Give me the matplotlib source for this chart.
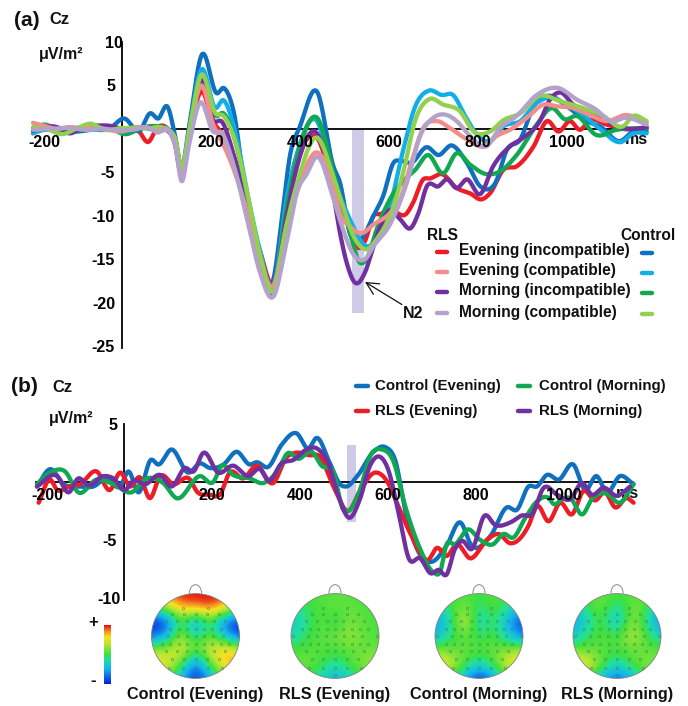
import numpy as np
import matplotlib
matplotlib.use('Agg')
from matplotlib import pyplot as plt
from matplotlib import patches, transforms
from matplotlib.colors import LinearSegmentedColormap

plt.rcParams['font.family'] = ['Liberation Sans', 'DejaVu Sans']
plt.rcParams['font.weight'] = 'bold'
plt.rcParams['axes.unicode_minus'] = False

W, H = 688, 706

# (a) each curve is (ms, value)
rls_eve_inc = [(-200,-.5),(-170,.2),(-140,-.2),(-100,.1),(-60,0),(-20,.2),(10,-.2),(35,-.1),(59,-1.5),(80,.2),(105,-.1),(120,-1.5),(134,-5),(150,-1),(178,4.3),(205,.8),(225,-.5),(250,-3),(284,-9.5),(310,-14),(340,-17.7),(370,-9),(385,-4.5),(400,-2.5),(438,-1),(475,-6.5),(510,-11),(532,-13.7),(546,-12.9),(565,-10),(580,-9.8),(602,-9.3),(640,-9.7),(654,-8.5),(677,-5.8),(692,-5.7),(719,-5.2),(752,-6.8),(782,-7.4),(808,-8.1),(827,-7.4),(857,-4.7),(887,-4.3),(925,-2),(955,.9),(981,-.3),(1007,.9),(1029,-.1),(1051,1),(1089,.5),(1126,0),(1179,0)]
rls_eve_com = [(-200,.7),(-170,.3),(-150,0),(-120,.2),(-90,.1),(-60,.2),(-30,-.1),(0,-.3),(30,.2),(60,.1),(90,-.2),(105,-.2),(120,-2),(134,-5.5),(150,-1),(178,5),(205,.5),(225,-1.5),(250,-4.5),(284,-10),(310,-15),(340,-18),(370,-11),(395,-7),(438,-2.7),(475,-6.5),(490,-9.7),(512,-11.2),(538,-12),(565,-11),(602,-9.7),(625,-8.1),(650,-3.9),(677,.1),(707,.9),(737,.1),(775,-1.2),(812,-2),(842,-.8),(872,-.1),(910,1.3),(947,2.8),(977,2.6),(1014,2.4),(1051,1.6),(1089,.9),(1134,1.6),(1179,.7)]
rls_mor_inc = [(-200,-.2),(-170,.3),(-140,.1),(-120,-.5),(-90,.1),(-50,.4),(-20,.3),(10,-.2),(40,.1),(70,.2),(100,0),(118,-1.5),(134,-5.3),(150,-1),(178,5.5),(205,1),(225,.8),(250,-2.8),(284,-10.5),(310,-15.5),(340,-18.7),(370,-10),(395,-4),(438,-.5),(475,-7.5),(490,-12),(505,-15.4),(524,-17.7),(546,-16.5),(565,-13.5),(580,-11.3),(602,-9.3),(625,-10.4),(649,-11.4),(666,-9.7),(685,-6.6),(711,-6.6),(730,-5.8),(752,-6.8),(775,-5.8),(805,-7.5),(834,-4.3),(872,-2),(902,-1),(939,.9),(962,3.4),(984,4.2),(1014,2.8),(1044,1.8),(1074,1.5),(1104,.5),(1141,0),(1179,.2)]
rls_mor_com = [(-200,-.1),(-160,0),(-120,.1),(-80,-.1),(-40,0),(0,-.2),(25,-.1),(55,.2),(80,-.4),(105,-.2),(120,-2),(134,-6),(150,-2),(175,3),(205,-.3),(225,-.5),(250,-4),(284,-11),(310,-16.5),(340,-19.3),(370,-13),(395,-7),(415,-5.2),(438,-3.2),(475,-8),(490,-10.5),(520,-14.4),(546,-15),(565,-13.5),(602,-11),(640,-6.2),(670,-.8),(700,1.3),(730,1.6),(752,.9),(782,-.8),(819,-2),(849,.1),(887,1.5),(932,3.9),(981,4.7),(1021,3.4),(1066,2.2),(1096,.9),(1134,1.3),(1179,.5)]
ctl_eve_inc = [(-200,-.2),(-165,-.1),(-130,-.2),(-100,-.3),(-70,-.1),(-30,0),(5,1.2),(40,-.2),(63,1.8),(81,1.2),(103,2.5),(120,-1),(134,-4.5),(150,0),(179,8.5),(213,4.1),(229,4.7),(250,2.2),(284,-10),(310,-15),(340,-17.3),(360,-10),(377,-3.2),(400,.3),(438,4.3),(475,-4.3),(490,-6.2),(512,-12),(535,-12.7),(565,-10),(587,-7.7),(610,-3.9),(628,-3.7),(650,-3.9),(685,-2.1),(711,-3),(741,-1.9),(775,-3.9),(805,-6.6),(839,-6.2),(865,-2.4),(895,-1.2),(925,2.6),(955,3.8),(1000,2.6),(1044,.9),(1074,.3),(1119,-1.4),(1149,-.3),(1179,-.3)]
ctl_eve_com = [(-200,-.5),(-170,0),(-140,.1),(-100,.1),(-60,-.1),(-20,.1),(15,-.2),(45,.1),(75,-.1),(100,-.1),(118,-1.5),(134,-5),(150,-.5),(178,6.8),(210,2.4),(228,3.3),(255,-.5),(284,-8),(310,-14),(340,-18.5),(370,-8),(395,-2.5),(438,.9),(475,-6),(500,-9),(512,-10.4),(550,-13.5),(572,-12.7),(602,-8.9),(632,-2.4),(659,2.6),(689,4.4),(719,3.9),(744,3.9),(771,1.5),(797,-.6),(827,-1.4),(857,.3),(895,.9),(932,3),(962,3.6),(999,2.8),(1036,1.6),(1074,0),(1122,-1.5),(1149,-.5),(1179,-.5)]
ctl_mor_inc = [(-200,.1),(-175,.5),(-140,-.2),(-100,-.2),(-60,.1),(-30,.1),(10,-.6),(35,-.1),(60,.3),(90,.2),(105,-.1),(120,-1.5),(134,-5),(150,-.5),(178,6),(210,1.5),(228,1.8),(255,-1.5),(284,-8.5),(310,-15),(340,-18.7),(370,-9),(395,-3),(438,1.3),(475,-5),(510,-11.5),(535,-15.4),(553,-14.6),(572,-11.6),(602,-8.1),(632,-6),(659,-4.7),(687,-3),(722,-5.1),(752,-2.8),(782,-4.1),(819,-5.2),(849,-4.9),(887,-3),(932,.5),(966,2.4),(996,1.1),(1021,1.5),(1066,-.7),(1111,-.1),(1179,.1)]
ctl_mor_com = [(-200,.2),(-165,-.1),(-135,-.6),(-100,.1),(-70,.6),(-40,-.1),(0,.1),(30,.1),(60,.1),(90,.2),(105,-.1),(120,-1.2),(134,-4.5),(150,-.5),(178,6.2),(210,1.8),(228,1.5),(255,-1.5),(284,-8),(310,-14.5),(340,-18.7),(370,-11),(395,-6),(438,-1),(475,-5.5),(500,-9.5),(520,-12.3),(553,-13.8),(572,-12.7),(602,-10),(632,-5),(659,1),(689,3.4),(722,2.8),(760,2),(790,-.3),(827,-.3),(857,1),(895,1.8),(939,3.8),(984,3.2),(1036,2.4),(1081,1.5),(1126,.3),(1149,1.5),(1179,.9)]

# (b)
b_ctl_eve = [(-198,-.4),(-168,1.1),(-137,-.2),(-100,-.4),(-70,-.4),(-39,.3),(-9,-.4),(10,.9),(33,-.9),(61,1.9),(78,1.5),(108,2.8),(146,.8),(173,1.6),(195,1.2),(226,1.5),(256,2.6),(286,1.5),(301,1.7),(328,1.3),(358,3.2),(392,4.2),(419,2.9),(438,3.8),(468,1.6),(491,-.2),(505,-.4),(530,.5),(567,2.6),(594,3),(616,1.9),(642,-3),(673,-6.3),(699,-6.9),(733,-5.5),(764,-3.5),(790,-5.5),(832,-4.7),(870,-2.2),(893,-2.4),(919,-.4),(938,-.4),(961,.6),(988,.2),(1021,1.5),(1048,-.7),(1074,.5),(1097,-.9),(1127,.5),(1158,-.2)]
b_rls_eve = [(-194,-1.8),(-168,.2),(-152,-.7),(-126,-.4),(-100,-.2),(-62,.9),(-32,-.7),(-9,.8),(14,-.4),(36,.4),(59,-1.4),(82,.5),(112,-.2),(150,.2),(165,-.8),(195,-1.1),(218,-1.1),(240,.8),(271,.3),(301,1.4),(339,-.1),(369,2.1),(388,2.5),(422,2.3),(445,2.2),(476,-.4),(510,-2.5),(536,-.8),(570,.8),(597,.1),(620,-1.8),(650,-4.4),(692,-6.7),(711,-5.7),(733,-6.4),(756,-5.4),(787,-6.6),(825,-5),(851,-4.5),(878,-5.3),(919,-3.8),(938,-2.1),(965,-3.4),(991,-1.8),(1018,-2.8),(1044,-.8),(1071,-1.6),(1093,-.9),(1116,-2.2),(1143,-1.4),(1158,-1.8)]
b_ctl_mor = [(-198,-.2),(-168,.8),(-134,.9),(-104,-.9),(-62,.2),(-24,-.2),(17,-.9),(52,.3),(89,-.1),(119,-1.4),(173,.5),(203,0),(222,1.4),(248,.6),(286,.3),(316,-.1),(346,.8),(373,2.5),(396,2),(427,2.6),(449,1.4),(476,.8),(498,-2.4),(510,-2.5),(536,-.7),(559,2.2),(586,2.8),(612,1.8),(639,-2.1),(673,-5.8),(703,-7.8),(718,-7.8),(733,-5.4),(752,-5.4),(782,-4.1),(809,-5),(838,-5.4),(862,-4.5),(885,-4.8),(912,-3.1),(938,-1.7),(965,-1.4),(976,-1.9),(999,-1.4),(1014,-1.4),(1042,-2.8),(1063,-1.5),(1097,-1),(1127,-1.8),(1158,-.2)]
b_rls_mor = [(-198,-.4),(-152,.5),(-126,-.9),(-104,.3),(-81,-.3),(-47,.5),(-24,.3),(2,-.7),(21,.1),(48,-.2),(82,.6),(108,-.4),(139,1.2),(158,.9),(180,2.5),(214,.8),(248,1.4),(283,.5),(309,1.1),(328,.1),(358,1.6),(385,1.9),(415,2.8),(438,2.9),(465,1.5),(487,-1.2),(512,-3.1),(536,-1.5),(559,1.4),(578,2.2),(600,1.1),(624,-2.7),(647,-6.6),(673,-6.6),(697,-7.9),(715,-7.6),(733,-8),(752,-5.8),(768,-5.1),(790,-5.8),(820,-2.9),(843,-3.7),(878,-3.5),(904,-2.9),(927,-2.8),(954,-.5),(984,-1.1),(1014,-1.5),(1041,-.1),(1063,-1.1),(1090,-.5),(1120,-1.2),(1150,-.4)]

# topographic maps, 7x7 sampled top to bottom, -1 = blue, 1 = red
topo_ctl_eve = [[.7,.95,1,1,1,1,.7],
                [-.1,.3,.8,.85,.95,.7,.1],
                [-1,-.95,.05,-.7,.05,-.8,-1],
                [-.8,-.6,.4,-.3,.15,-.45,-.9],
                [.3,.3,.55,.1,.5,.7,.45],
                [.65,.55,.15,-.85,.1,.75,.8],
                [.3,.2,-.5,-1,-.6,.1,.3]]
topo_rls_eve = [[.05,.05,.05,.1,.05,.05,.05],
                [-.2,-.05,.05,.1,.1,.05,0],
                [-.35,-.15,.1,-.1,.2,.05,.05],
                [-.3,-.05,.1,.1,.3,.1,0],
                [.05,.05,.05,.05,.1,.1,.15],
                [.1,.15,.05,-.2,.05,.25,.3],
                [.1,.05,-.3,-.5,-.3,.05,.1]]
topo_ctl_mor = [[.05,.05,.05,0,.05,.05,.05],
                [-.3,-.05,.2,-.15,.1,-.15,-.4],
                [-.65,-.25,.6,-.4,.05,-.6,-.95],
                [-.5,-.1,.1,-.1,.05,-.35,-.75],
                [.15,.1,.1,.1,.1,.2,.3],
                [.8,.45,.1,-.3,.1,.55,.85],
                [.3,.1,-.55,-1,-.6,.05,.3]]
topo_rls_mor = [[.05,.1,.1,.05,.05,.1,0],
                [-.4,0,.15,-.25,.2,.05,-.6],
                [-.6,-.25,.05,-.5,.3,-.15,-.75],
                [-.4,-.05,.1,-.05,.45,0,-.3],
                [.1,.1,.05,.05,.1,.1,.1],
                [.65,.6,.1,-.3,.1,.2,.2],
                [.15,.05,-.5,-.8,-.5,.05,.1]]

a_xticks = [-200, 200, 400, 600, 800, 1000]
a_yticks = [10, 5, -5, -10, -15, -20, -25]
b_yticks = [5, -5, -10]

BLUE = '#0f70bf'
CYAN = '#12aee8'
GREEN = '#10a850'
LGREEN = '#92d050'
RED = '#ee1c25'
SALMON = '#f58c8c'
PURPLE = '#7030a0'
LAVENDER = '#b3a2c9'
BAND = '#cfcbe6'


def smooth(curve):
    # hermite through the read points so the line stays round
    t, v = np.array(curve, dtype=float).T
    m = np.gradient(v, t)
    tt = np.linspace(t[0], t[-1], 1500)
    i = np.clip(np.searchsorted(t, tt) - 1, 0, len(t) - 2)
    h = t[i + 1] - t[i]
    s = (tt - t[i]) / h
    vv = (2*s**3 - 3*s**2 + 1)*v[i] + (s**3 - 2*s**2 + s)*h*m[i] \
        + (-2*s**3 + 3*s**2)*v[i + 1] + (s**3 - s**2)*h*m[i + 1]
    return tt, vv


def px_axes(fig, left, top, right, bottom):
    return fig.add_axes([left / W, 1 - bottom / H, (right - left) / W, (bottom - top) / H])


def nudge(lab, fig, dx):
    # some tick labels sit off their tick in the original
    lab.set_transform(lab.get_transform() + transforms.ScaledTranslation(dx / 100, 0, fig.dpi_scale_trans))


def erp_axes(fig, rect, xlim, ylim, yticks, xend):
    ax = px_axes(fig, *rect)
    ax.set_xlim(*xlim)
    ax.set_ylim(*ylim)
    ax.patch.set_alpha(0)
    ax.set_axisbelow(False)
    for s in ['top', 'right']:
        ax.spines[s].set_visible(False)
    ax.spines['left'].set_position(('data', 0))
    ax.spines['bottom'].set_position(('data', 0))
    ax.spines['bottom'].set_bounds(xlim[0], xend)
    for s in ['left', 'bottom']:
        ax.spines[s].set_linewidth(1.3)
        ax.spines[s].set_zorder(1)
    ax.set_xticks(a_xticks)
    ax.set_yticks(yticks)
    ax.tick_params(length=0, labelsize=11.5, pad=5)
    ax.tick_params(axis='x', pad=4.5)
    nudge(ax.get_xticklabels()[0], fig, 11)
    return ax


def topo(fig, cx, cy, grid, cmap, elec):
    ax = px_axes(fig, cx - 55, cy - 53, cx + 55, cy + 53)
    ax.set_xlim(-1.25, 1.25)
    ax.set_ylim(-1.25, 1.25)
    ax.axis('off')
    im = ax.imshow(grid, cmap=cmap, vmin=-1, vmax=1, interpolation='bicubic', aspect='auto',
                   extent=(-7/6, 7/6, -7/6, 7/6))
    head = patches.Circle((0, 0), 1, fill=False, ec='#808080', lw=0.6, transform=ax.transData)
    ax.add_patch(head)
    im.set_clip_path(head)
    ax.add_patch(patches.Arc((0, 1.0), 0.28, 0.42, theta1=0, theta2=180, ec='#888888', lw=0.7))
    ax.plot(elec[:, 0], elec[:, 1], 'o', ms=1.7, mfc='none', mec='#4a7a55', mew=0.35)


fig = plt.figure(figsize=(W / 100, H / 100), dpi=100)
bg = fig.add_axes([0, 0, 1, 1])
bg.set_xlim(0, W)
bg.set_ylim(H, 0)
bg.axis('off')


def label(x, y, s, size=11.2, ha='left'):
    bg.text(x, y, s, fontsize=size, fontweight='bold', ha=ha, va='center', color='#111111')


# panel a
ax_a = erp_axes(fig, (33, 42, 656, 348), (-200, 1200), (-25.2, 10), a_yticks, 1165)
nudge(ax_a.get_yticklabels()[0], fig, 8)
ax_a.bar((517 + 544) / 2, -21.2, width=27, color=BAND, zorder=0)
for curve, color in [(rls_eve_inc, RED), (ctl_eve_inc, BLUE), (ctl_eve_com, CYAN), (ctl_mor_inc, GREEN),
                     (rls_mor_inc, PURPLE), (rls_eve_com, SALMON), (ctl_mor_com, LGREEN), (rls_mor_com, LAVENDER)]:
    ax_a.plot(*smooth(curve), color=color, lw=3.1, solid_capstyle='round', clip_on=False)
ax_a.annotate('', xy=(546, -17.6), xytext=(629, -20.2),
              arrowprops=dict(arrowstyle='->', lw=0.9, color='#111111', mutation_scale=22, shrinkA=0, shrinkB=0))

# panel b
ax_b = erp_axes(fig, (36, 424, 660, 600), (-200, 1218), (-10.2, 5), b_yticks, 1157)
nudge(ax_b.get_yticklabels()[2], fig, 4)
ax_b.bar((507 + 527) / 2, 6.7, bottom=-3.5, width=20, color=BAND, zorder=0)
for curve, color in [(b_ctl_eve, BLUE), (b_rls_eve, RED), (b_ctl_mor, GREEN), (b_rls_mor, PURPLE)]:
    ax_b.plot(*smooth(curve), color=color, lw=3.1, solid_capstyle='round', clip_on=False)

# text
label(14, 20, '(a)', 15)
label(49, 20, 'Cz', 12)
label(39, 54, 'μV/m²', 11.5)
label(625, 140, 'ms', 11.5)
label(403, 313, 'N2', 11.5)
label(427, 236, 'RLS')
label(620, 236, 'Control')
label(11, 387, '(b)', 15)
label(52, 388, 'Cz', 12)
label(49, 418, 'μV/m²', 11.5)
label(616, 494, 'ms', 11.5)

# legend a
for y, s, c1, c2 in [(252, 'Evening (incompatible)', RED, BLUE), (272, 'Evening (compatible)', SALMON, CYAN),
                     (292, 'Morning (incompatible)', PURPLE, GREEN), (313, 'Morning (compatible)', LAVENDER, LGREEN)]:
    bg.plot([437, 447], [y, y], color=c1, lw=3.2, solid_capstyle='round')
    bg.plot([642, 652], [y + 1, y + 1], color=c2, lw=3.2, solid_capstyle='round')
    label(459, y - 1, s)

# legend b
for x, y, s, c in [(356, 386, 'Control (Evening)', BLUE), (356, 411, 'RLS (Evening)', RED),
                   (518, 386, 'Control (Morning)', GREEN), (518, 411, 'RLS (Morning)', PURPLE)]:
    bg.plot([x, x + 12], [y, y], color=c, lw=3.2, solid_capstyle='round')
    label(x + 19 if x == 356 else x + 21, y, s, 10.8)

# topo maps
topo_cmap = LinearSegmentedColormap.from_list('topo', [
    (0.0, '#0a20e0'), (0.25, '#12b4f0'), (0.42, '#20e0a0'), (0.5, '#3ee040'),
    (0.68, '#b8e830'), (0.8, '#f8e020'), (0.9, '#f59020'), (1.0, '#e81010')])
elec_rows = [(.66, [.28]), (.51, [0, .27, .53]), (.36, [0, .19, .42, .67]), (.17, [0, .19, .38, .57, .76]),
             (0, [0, .2, .4, .62, .96]), (-.18, [0, .19, .38, .57, .76]), (-.36, [0, .19, .42, .67]),
             (-.55, [0, .27, .53]), (-.76, [0, .28, .6]), (-.92, [0])]
elec = np.array([(sx * x, y) for y, xs in elec_rows for x in xs for sx in ([1, -1] if x else [1])])
topo(fig, 195.5, 636, topo_ctl_eve, topo_cmap, elec)
topo(fig, 335, 636, topo_rls_eve, topo_cmap, elec)
topo(fig, 479, 636, topo_ctl_mor, topo_cmap, elec)
topo(fig, 617, 636, topo_rls_mor, topo_cmap, elec)

label(195, 695, 'Control (Evening)', 11.7, 'center')
label(335, 695, 'RLS (Evening)', 11.7, 'center')
label(479, 695, 'Control (Morning)', 11.7, 'center')
label(617, 695, 'RLS (Morning)', 11.7, 'center')

# colour bar
cbar = px_axes(fig, 104, 625, 111, 684)
cbar.imshow(np.linspace(1, -1, 64)[:, None], cmap=topo_cmap, vmin=-1, vmax=1, aspect='auto')
cbar.axis('off')
label(93, 622, '+', 12, 'center')
label(93, 680, '-', 12, 'center')

plt.savefig('out.png', dpi=100)
